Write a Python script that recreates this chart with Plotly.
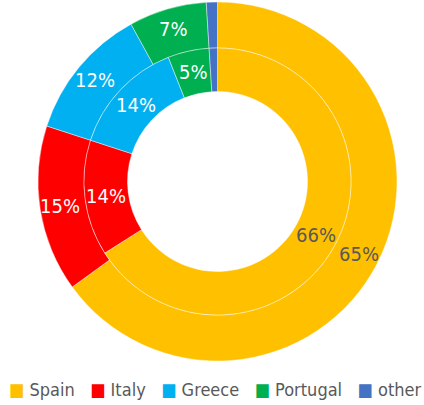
import math
import plotly.graph_objects as go

labels = ["Spain", "Italy", "Greece", "Portugal", "other"]
outer_values = [65, 15, 12, 7, 1]
inner_values = [66, 14, 14, 5, 1]
colors = ["#FFC000", "#FF0000", "#00B0F0", "#00B050", "#4472C4"]
text_colors = ["#595959", "white", "white", "white", "white"]

FONT = "DejaVu Sans Condensed, DejaVu Sans, sans-serif"
W, H = 424, 405
M = dict(l=11, r=0, t=2, b=44)
PW = W - M["l"] - M["r"]
PH = H - M["t"] - M["b"]
R_OUT = PH / 2            # outer radius in px
R_MID = 133.5             # boundary between rings
R_HOLE = 90.0             # hole radius
SEP = dict(color="rgba(255,255,255,0.85)", width=0.5)

fig = go.Figure()
fig.add_trace(go.Pie(
    labels=labels, values=outer_values, textinfo="none", hoverinfo="label+percent",
    sort=False, direction="clockwise", rotation=0,
    hole=R_MID / R_OUT, domain=dict(x=[0, 1], y=[0, 1]),
    marker=dict(colors=colors, line=SEP),
    showlegend=False,
))
fx = R_MID * 2 / PW
fy = R_MID * 2 / PH
fig.add_trace(go.Pie(
    labels=labels, values=inner_values, textinfo="none", hoverinfo="label+percent",
    sort=False, direction="clockwise", rotation=0,
    hole=R_HOLE / R_MID,
    domain=dict(x=[0.5 - fx / 2, 0.5 + fx / 2], y=[0.5 - fy / 2, 0.5 + fy / 2]),
    marker=dict(colors=colors, line=SEP),
    showlegend=False,
))


def add_labels(vals, radius):
    total = sum(vals)
    cum = 0
    for v, tc in zip(vals, text_colors):
        mid = (cum + v / 2) / total * 2 * math.pi
        cum += v
        if v / total < 0.02:
            continue
        fig.add_annotation(
            x=0.5 + radius * math.sin(mid) / PW,
            y=0.5 + radius * math.cos(mid) / PH,
            xref="paper", yref="paper", xanchor="center", yanchor="middle",
            showarrow=False,
            text=f"{v / total * 100:.0f}%",
            font=dict(family=FONT, size=20, color=tc),
        )


add_labels(outer_values, 159)
add_labels(inner_values, 112)

# legend row
items = [f"<span style='color:{c}'>■</span>&nbsp;{lab}" for lab, c in zip(labels, colors)]
fig.add_annotation(
    x=(214.5 - M["l"]) / PW, y=-(389 - (H - M["b"])) / PH,
    xref="paper", yref="paper", xanchor="center", yanchor="middle",
    text="&nbsp;&nbsp;&nbsp;".join(items), showarrow=False,
    font=dict(family=FONT, size=18, color="#595959"),
)

fig.update_layout(
    width=W, height=H, margin=M,
    paper_bgcolor="white", plot_bgcolor="white",
    font=dict(family=FONT, color="#595959"),
    showlegend=False,
)
fig.write_html("out.html", config={"displayModeBar": False},
               post_script="document.body.style.margin='0';")
